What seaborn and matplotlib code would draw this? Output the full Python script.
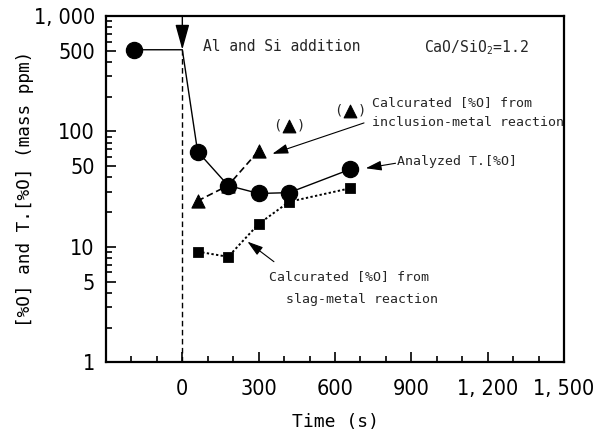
import numpy as np
import pandas as pd
import seaborn as sns
import matplotlib
matplotlib.use("Agg")
import matplotlib.pyplot as plt
from matplotlib import font_manager
from matplotlib.ticker import FixedLocator, FixedFormatter, NullFormatter

# ---- data ----
addition_time = 0
analyzed_time = [-190, 60, 180, 300, 420, 660]
analyzed_o = [510, 67, 34, 29, 29.5, 47]
incl_time = [60, 180, 300]
incl_o = [25, 34, 68]
incl_paren_time = [420, 660]
incl_paren_o = [112, 151]
slag_time = [60, 180, 300, 420, 660]
slag_o = [9.1, 8.2, 15.8, 24.6, 32.2]

x_ticks = [0, 300, 600, 900, 1200, 1500]
x_tick_labels = ["0", "300", "600", "900", "1, 200", "1, 500"]
y_ticks = [1, 5, 10, 50, 100, 500, 1000]
y_tick_labels = ["1", "5", "10", "50", "100", "500", "1, 000"]

sns.set_theme(style="ticks")
MONO = ['DejaVu Sans Mono', 'DejaVu Sans']

# pick a narrow sans for tick labels if one is installed
fl = font_manager.fontManager.ttflist
names = {f.name for f in fl}
tick_font = dict(family=['DejaVu Sans'], size=12.5, stretch='normal')
if 'Liberation Sans Narrow' in names:
    tick_font = dict(family=['Liberation Sans Narrow', 'DejaVu Sans'], size=17, stretch='normal')
elif any(f.name == 'DejaVu Sans' and f.stretch in ('condensed', 'semi-condensed') for f in fl):
    tick_font = dict(family=['DejaVu Sans'], size=15.5, stretch='condensed')
elif 'Roboto Condensed' in names:
    tick_font = dict(family=['Roboto Condensed', 'DejaVu Sans'], size=17, stretch='normal')
elif any(f.name == 'Roboto' and f.stretch == 'condensed' for f in fl):
    tick_font = dict(family=['Roboto'], size=17, stretch='condensed')
elif 'Open Sans Condensed' in names:
    tick_font = dict(family=['Open Sans Condensed', 'DejaVu Sans'], size=17, stretch='normal')
plt.rcParams['font.family'] = tick_font['family']
plt.rcParams['font.stretch'] = tick_font['stretch']

fig = plt.figure(figsize=(6.08, 4.37), dpi=100)
ax = fig.add_axes([106/608, 1-362.3/437, (564-106)/608, (362.3-16)/437])

# analysed T.[%O] path: first point -> addition moment -> remaining points
path_time = [analyzed_time[0], addition_time] + analyzed_time[1:]
path_o = [analyzed_o[0], analyzed_o[0]] + analyzed_o[1:]
path_df = pd.DataFrame({"t": path_time, "o": path_o})
sns.lineplot(data=path_df, x="t", y="o", ax=ax, color="black", lw=1.0,
             sort=False, estimator=None)

incl_df = pd.DataFrame({"t": incl_time, "o": incl_o})
sns.lineplot(data=incl_df, x="t", y="o", ax=ax, color="black", lw=1.2,
             sort=False, estimator=None)
ax.lines[-1].set_dashes((4, 2.2))
sns.scatterplot(data=incl_df, x="t", y="o", ax=ax, marker="^", s=90,
                color="black", edgecolor="black", zorder=4)
paren_df = pd.DataFrame({"t": incl_paren_time, "o": incl_paren_o})
sns.scatterplot(data=paren_df, x="t", y="o", ax=ax, marker="^", s=85,
                color="black", edgecolor="black", zorder=4)
for t, o in zip(incl_paren_time, incl_paren_o):
    ax.annotate("(", xy=(t, o), xytext=(-8.5, 0), textcoords="offset points",
                ha="center", va="center", fontsize=10, family=MONO)
    ax.annotate(")", xy=(t, o), xytext=(8.5, 0), textcoords="offset points",
                ha="center", va="center", fontsize=10, family=MONO)

slag_df = pd.DataFrame({"t": slag_time, "o": slag_o})
sns.lineplot(data=slag_df, x="t", y="o", ax=ax, color="black", lw=1.4,
             sort=False, estimator=None)
ax.lines[-1].set_dashes((1.2, 1.2))
sns.scatterplot(data=slag_df, x="t", y="o", ax=ax, marker="s", s=50,
                color="black", edgecolor="black", zorder=4)

an_df = pd.DataFrame({"t": analyzed_time, "o": analyzed_o})
sns.scatterplot(data=an_df, x="t", y="o", ax=ax, marker="o", s=135,
                color="black", edgecolor="black", zorder=5)

# addition marker: dashed vertical line and arrow
ax.plot([addition_time, addition_time], [1, analyzed_o[0]], color="black",
        lw=1.0, dashes=(4, 2.5))
ax.annotate("", xy=(addition_time, analyzed_o[0]), xytext=(addition_time, 1000),
            arrowprops=dict(arrowstyle="-|>,head_length=1.3,head_width=0.36",
                            color="black", lw=1.0, shrinkA=0, shrinkB=0))

# texts
ax.text(83, 543, "Al and Si addition", fontsize=10.5, family=MONO,
        ha="left", va="center")
ax.text(950, 535, "CaO/SiO$_2$=1.2", fontsize=10.6, family=MONO,
        ha="left", va="center")
ax.text(747, 178, "Calcurated [%O] from", fontsize=9.5, family=MONO,
        ha="left", va="center")
ax.text(747, 119, "inclusion-metal reaction", fontsize=9.5, family=MONO,
        ha="left", va="center")
ax.annotate("", xy=(354, 64), xytext=(714, 118.5),
            arrowprops=dict(arrowstyle="-|>,head_length=0.8,head_width=0.25",
                            color="black", lw=0.8, shrinkA=0, shrinkB=0))
ax.text(845, 54.4, "Analyzed T.[%O]", fontsize=9.5, family=MONO,
        ha="left", va="center")
ax.annotate("", xy=(721, 48), xytext=(838, 53),
            arrowprops=dict(arrowstyle="-|>,head_length=0.8,head_width=0.25",
                            color="black", lw=0.8, shrinkA=0, shrinkB=0))
ax.text(340, 5.52, "Calcurated [%O] from", fontsize=9.5, family=MONO,
        ha="left", va="center")
ax.text(406, 3.47, "slag-metal reaction", fontsize=9.5, family=MONO,
        ha="left", va="center")
ax.annotate("", xy=(256, 11.1), xytext=(360, 7.44),
            arrowprops=dict(arrowstyle="-|>,head_length=0.8,head_width=0.25",
                            color="black", lw=0.8, shrinkA=0, shrinkB=0))

# axes
ax.set_yscale("log")
ax.set_xlim(-300, 1500)
ax.set_ylim(1, 1000)
ax.xaxis.set_major_locator(FixedLocator(x_ticks))
ax.xaxis.set_major_formatter(FixedFormatter(x_tick_labels))
ax.xaxis.set_minor_locator(FixedLocator(list(range(-300, 1501, 100))))
ax.yaxis.set_major_locator(FixedLocator(y_ticks))
ax.yaxis.set_major_formatter(FixedFormatter(y_tick_labels))
minor_y = [m * d for d in (1, 10, 100) for m in range(2, 10) if m != 5]
ax.yaxis.set_minor_locator(FixedLocator(minor_y))
ax.yaxis.set_minor_formatter(NullFormatter())
ax.tick_params(which="both", direction="in", color="black", labelcolor="black",
               labelsize=tick_font['size'], width=1.2)
ax.tick_params(which="major", length=7)
ax.tick_params(axis="y", which="major", pad=8)
ax.tick_params(axis="x", which="major", pad=12)
ax.tick_params(which="minor", length=4)
for s in ax.spines.values():
    s.set_visible(True)
    s.set_color("black")
    s.set_linewidth(1.6)
ax.set_facecolor("white")
fig.patch.set_facecolor("white")

ax.set_xlabel("Time (s)", fontsize=13, family=MONO, color="black")
ax.set_ylabel("[%O] and T.[%O] (mass ppm)", fontsize=12.8, family=MONO,
              color="black")
ax.xaxis.set_label_coords(0.5, -(413 - 362.3) / 346.3)
ax.yaxis.set_label_coords(-(106 - 34) / 458, 0.5)

fig.savefig("out.png", dpi=100, facecolor="white")
